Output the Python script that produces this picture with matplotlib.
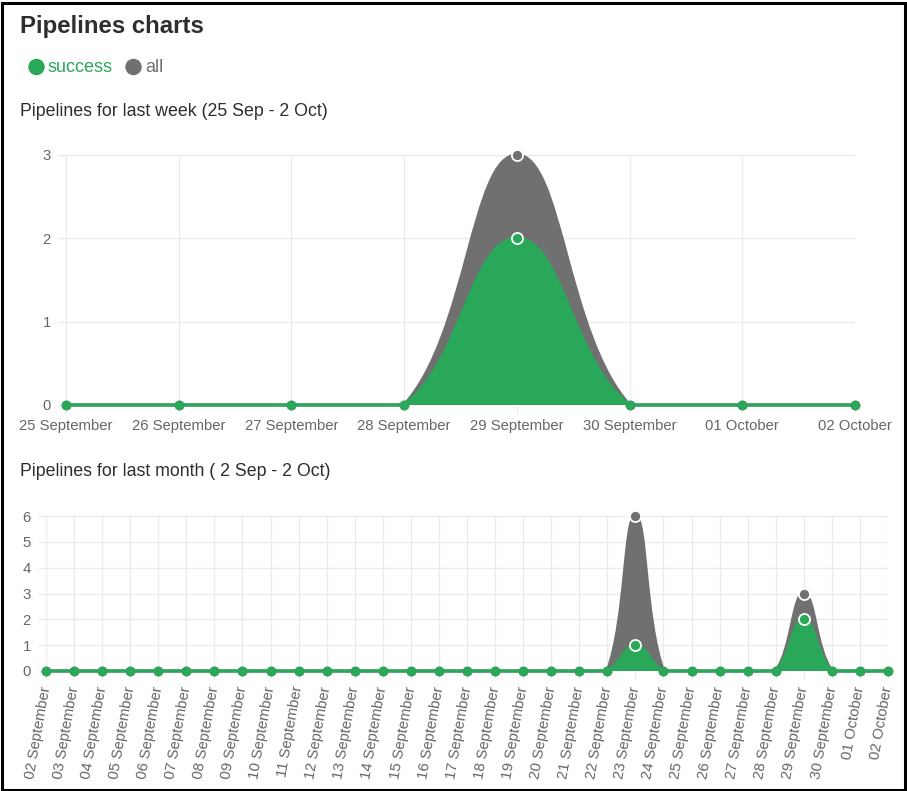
import numpy as np
import matplotlib
matplotlib.use("Agg")
import matplotlib.pyplot as plt
from matplotlib.path import Path
from matplotlib.patches import PathPatch, Rectangle, Ellipse

plt.rcParams['font.family'] = ['Liberation Sans', 'DejaVu Sans']

# --- data -------------------------------------------------------------
week_labels = ["25 September", "26 September", "27 September", "28 September",
               "29 September", "30 September", "01 October", "02 October"]
week_all = [0, 0, 0, 0, 3, 0, 0, 0]
week_success = [0, 0, 0, 0, 2, 0, 0, 0]

month_labels = ["%02d September" % d for d in range(2, 31)] + ["01 October", "02 October"]
month_all = [0] * 21 + [6] + [0] * 5 + [3] + [0] * 3
month_success = [0] * 21 + [1] + [0] * 5 + [2] + [0] * 3

GREEN = '#28a858'
GRAY = '#707070'
GRID = '#ebebeb'
TICK = '#666666'
DARK = '#2e2e2e'

W, H = 907, 791
fig = plt.figure(figsize=(W / 100, H / 100), dpi=100)


def frac(x0, y0, x1, y1):
    # pixel box (top-left origin) -> figure fraction rect
    return [x0 / W, 1 - y1 / H, (x1 - x0) / W, (y1 - y0) / H]


def spline_path(ax, xs, ys, tension=0.4):
    # chart.js-like bezier through points, computed in display space
    pts = ax.transData.transform(np.column_stack([xs, ys]))
    bb = ax.bbox
    n = len(pts)
    prev_cp, next_cp = [], []
    for i in range(n):
        cur = pts[i]
        p = pts[i - 1] if i > 0 else cur
        nx = pts[i + 1] if i < n - 1 else cur
        d01 = np.hypot(*(cur - p))
        d12 = np.hypot(*(nx - cur))
        tot = d01 + d12
        s01 = d01 / tot if tot else 0
        s12 = d12 / tot if tot else 0
        a = cur - tension * s01 * (nx - p)
        b = cur + tension * s12 * (nx - p)
        for c in (a, b):
            c[0] = min(max(c[0], bb.x0), bb.x1)
            c[1] = min(max(c[1], bb.y0), bb.y1)
        prev_cp.append(a)
        next_cp.append(b)
    verts = [pts[0]]
    codes = [Path.MOVETO]
    for i in range(n - 1):
        verts += [next_cp[i], prev_cp[i + 1], pts[i + 1]]
        codes += [Path.CURVE4] * 3
    inv = ax.transData.inverted()
    return inv.transform(np.array(verts)), codes


def draw_series(ax, ys, color):
    xs = np.arange(len(ys))
    verts, codes = spline_path(ax, xs, ys)
    fill_v = np.vstack([[xs[0], 0], verts, [xs[-1], 0], [xs[0], 0]])
    fill_c = [Path.MOVETO, Path.LINETO] + codes[1:] + [Path.LINETO, Path.CLOSEPOLY]
    ax.add_patch(PathPatch(Path(fill_v, fill_c), facecolor=color, edgecolor='none', zorder=2))
    ax.add_patch(PathPatch(Path(verts, codes), facecolor='none', edgecolor=color,
                           lw=2.3, zorder=2, clip_on=False, capstyle='round'))
    ys = np.array(ys)
    z = ys == 0
    ax.plot(xs[z], ys[z], 'o', color=color, ms=7, mec=color, mew=0, zorder=3, clip_on=False)
    ax.plot(xs[~z], ys[~z], 'o', color=color, ms=8, mec='white', mew=1.3, zorder=3, clip_on=False)


def style(ax, labels, ymax):
    ax.set_xlim(0, len(labels) - 1)
    ax.set_ylim(0, ymax)
    ax.set_xticks(range(len(labels)))
    ax.set_yticks(range(ymax + 1))
    ax.grid(True, color=GRID, lw=1)
    ax.set_axisbelow(True)
    for s in ax.spines.values():
        s.set_visible(False)
    ax.tick_params(colors=GRID, labelcolor=TICK, labelsize=10.7, length=6, width=1)


# title and legend
fig.text(20 / W, 1 - 26 / H, "Pipelines charts", fontsize=17.3, fontweight='bold',
         color=DARK, va='center', ha='left')
for cx, col in ((36.5, GREEN), (133.5, GRAY)):
    fig.patches.append(Ellipse((cx / W, 1 - 67 / H), 15 / W, 15 / H,
                               transform=fig.transFigure, color=col))
fig.text(48 / W, 1 - 67 / H, "success", fontsize=13, color=GREEN, va='center', ha='left')
fig.text(145 / W, 1 - 67 / H, "all", fontsize=13, color=GRAY, va='center', ha='left')

fig.text(20 / W, 1 - 112 / H, "Pipelines for last week (25 Sep - 2 Oct)", fontsize=12.8,
         color=DARK, va='center', ha='left')
fig.text(20 / W, 1 - 472 / H, "Pipelines for last month ( 2 Sep - 2 Oct)", fontsize=12.8,
         color=DARK, va='center', ha='left')

# week chart
ax1 = fig.add_axes(frac(66, 155, 855, 405))
style(ax1, week_labels, 3)
ax1.set_xticklabels(week_labels)
ax1.tick_params(axis='x', pad=4)
ax1.tick_params(axis='y', pad=5)
draw_series(ax1, week_all, GRAY)
draw_series(ax1, week_success, GREEN)

# month chart
ax2 = fig.add_axes(frac(46, 516, 888, 671))
style(ax2, month_labels, 6)
ax2.set_xticklabels(month_labels, rotation=80, ha='right', va='center',
                    rotation_mode='anchor')
ax2.tick_params(axis='x', pad=5)
ax2.tick_params(axis='y', pad=5)
draw_series(ax2, month_all, GRAY)
draw_series(ax2, month_success, GREEN)

# outer frame
fig.patches.append(Rectangle((1.5 / W, 1.5 / H), (W - 4) / W, (H - 4) / H,
                             transform=fig.transFigure, fill=False, ec='black', lw=2.2))

fig.savefig("out.png", dpi=100)
